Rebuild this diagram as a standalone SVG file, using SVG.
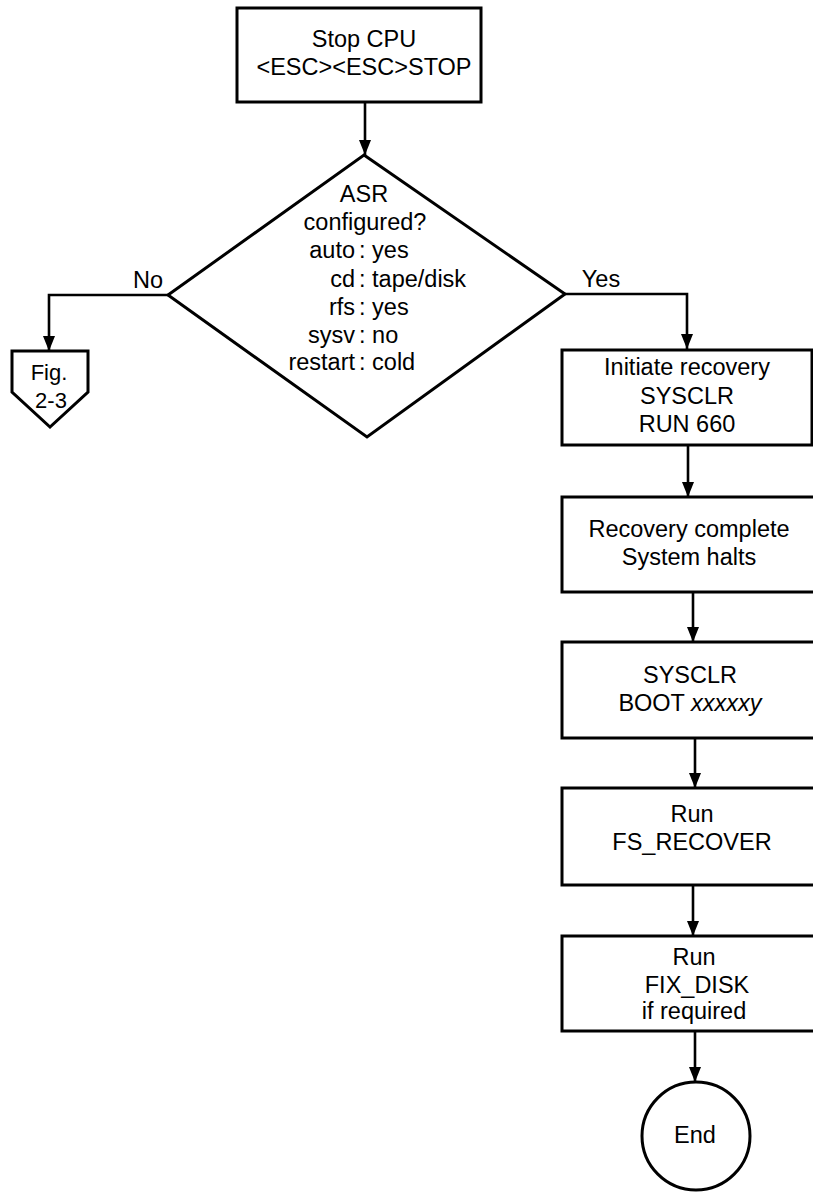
<svg xmlns="http://www.w3.org/2000/svg" width="813" height="1195" viewBox="0 0 813 1195">
<defs>
<style>
.shape{fill:#fff;stroke:#000;stroke-width:3}
.line{fill:none;stroke:#000;stroke-width:2.6}
text{font-family:"Liberation Sans",Arial,sans-serif;font-size:23.5px;fill:#000}
.c{text-anchor:middle}
.e{text-anchor:end}
</style>
<marker id="arrD" markerUnits="userSpaceOnUse" markerWidth="16" markerHeight="12" viewBox="0 0 16 12" refX="15" refY="6" orient="auto">
<path d="M0,0 L15,6 L0,12 Z" fill="#000"/>
</marker>
</defs>
<g id="connectors">
<path class="line" d="M365,102 V155" marker-end="url(#arrD)"/>
<path class="line" d="M168,295 H49 V351" marker-end="url(#arrD)"/>
<path class="line" d="M565,294 H687 V349" marker-end="url(#arrD)"/>
<path class="line" d="M688,445 V497" marker-end="url(#arrD)"/>
<path class="line" d="M693,592 V642" marker-end="url(#arrD)"/>
<path class="line" d="M695,738 V788" marker-end="url(#arrD)"/>
<path class="line" d="M693,885 V936" marker-end="url(#arrD)"/>
<path class="line" d="M695,1031 V1082" marker-end="url(#arrD)"/>
<text x="148" y="288" class="c">No</text>
<text x="601" y="287" class="c">Yes</text>
</g>
<g id="stop">
<rect class="shape" x="237" y="8" width="244" height="94"/>
<text x="364" y="47" class="c">Stop CPU</text>
<text x="364" y="75" class="c">&lt;ESC&gt;&lt;ESC&gt;STOP</text>
</g>
<g id="asr">
<polygon class="shape" points="364,155 565,294 367,437 168,295"/>
<text x="364" y="202" class="c">ASR</text>
<text x="365" y="230" class="c">configured?</text>
<text x="355" y="258" class="e">auto</text><text x="359" y="258">: yes</text>
<text x="355" y="287" class="e">cd</text><text x="359" y="287">: tape/disk</text>
<text x="355" y="315" class="e">rfs</text><text x="359" y="315">: yes</text>
<text x="355" y="343" class="e">sysv</text><text x="359" y="343">: no</text>
<text x="355" y="370" class="e">restart</text><text x="359" y="370">: cold</text>
</g>
<g id="fig23">
<polygon class="shape" points="12,351 88,351 88,392 50,427 12,392"/>
<text x="49" y="380" class="c" style="font-size:22px">Fig.</text>
<text x="51" y="408" class="c" style="font-size:22px">2-3</text>
</g>
<g id="initiate">
<rect class="shape" x="562" y="350" width="250" height="95"/>
<text x="687" y="375" class="c">Initiate recovery</text>
<text x="687" y="404" class="c">SYSCLR</text>
<text x="687" y="432" class="c">RUN 660</text>
</g>
<g id="complete">
<rect class="shape" x="562" y="497" width="260" height="95"/>
<text x="689" y="537" class="c">Recovery complete</text>
<text x="689" y="565" class="c">System halts</text>
</g>
<g id="boot">
<rect class="shape" x="562" y="642" width="260" height="96"/>
<text x="690" y="683" class="c">SYSCLR</text>
<text x="690" y="711" class="c">BOOT <tspan font-style="italic">xxxxxy</tspan></text>
</g>
<g id="fsrecover">
<rect class="shape" x="562" y="788" width="260" height="97"/>
<text x="692" y="822" class="c">Run</text>
<text x="692" y="850" class="c">FS_RECOVER</text>
</g>
<g id="fixdisk">
<rect class="shape" x="562" y="936" width="260" height="95"/>
<text x="694" y="965" class="c">Run</text>
<text x="697" y="993" class="c">FIX_DISK</text>
<text x="694" y="1019" class="c">if required</text>
</g>
<g id="end">
<circle class="shape" cx="696" cy="1136" r="54"/>
<text x="695" y="1143" class="c">End</text>
</g>
</svg>
